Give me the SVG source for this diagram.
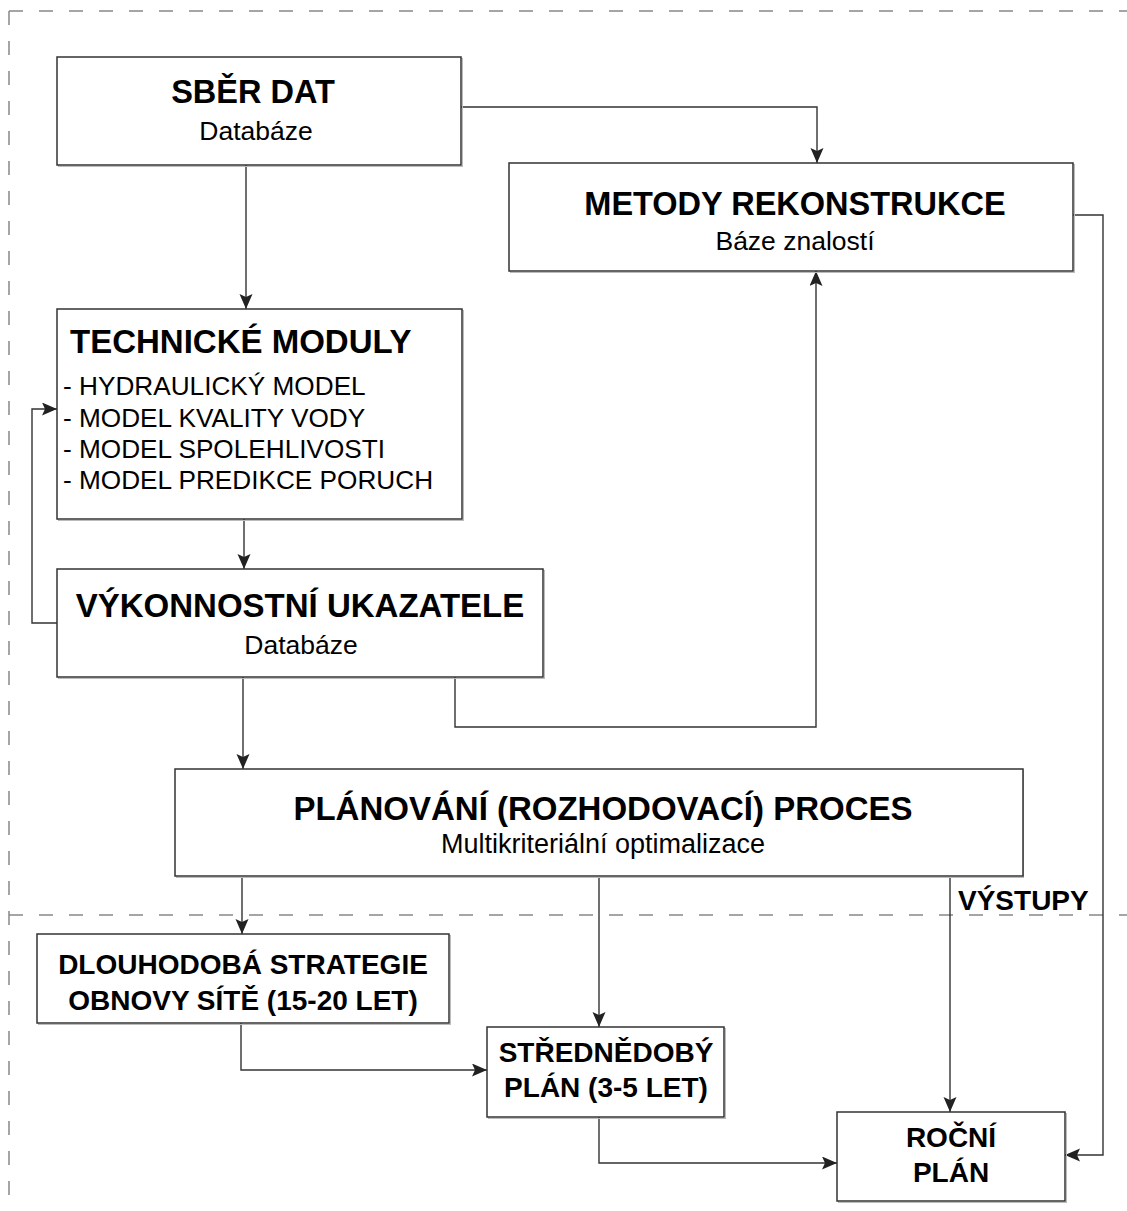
<svg xmlns="http://www.w3.org/2000/svg" width="1127" height="1211" viewBox="0 0 1127 1211">
<style>
.box{fill:#fff;stroke:#333;stroke-width:1.5}
.shadow{fill:none;stroke:#bbb;stroke-width:1}
.t{font-family:"Liberation Sans",Arial,sans-serif;fill:#000}
.b{font-weight:bold}
.c{text-anchor:middle}
.con{fill:none;stroke:#333;stroke-width:1.4}
.dash{fill:none;stroke:#888;stroke-width:1.5;stroke-dasharray:14 16}
</style>
<defs>
<marker id="arr" markerUnits="userSpaceOnUse" markerWidth="16" markerHeight="14" refX="15" refY="6.5" orient="auto">
<path d="M0,0 L15,6.5 L0,13 L3,6.5 z" fill="#222"/>
</marker>
</defs>
<rect width="1127" height="1211" fill="#fff"/>
<g id="frame">
<path class="dash" d="M9,11 H1127"/>
<path class="dash" d="M9,11 V1211"/>
<path class="dash" d="M9,915 H1127"/>
</g>
<g id="connectors">
<path class="con" d="M246,165 V309" marker-end="url(#arr)"/>
<path class="con" d="M461,107 H817 V163" marker-end="url(#arr)"/>
<path class="con" d="M1073,215 H1103 V1155 H1065" marker-end="url(#arr)"/>
<path class="con" d="M244,519 V569" marker-end="url(#arr)"/>
<path class="con" d="M57,623 H32 V409 H57" marker-end="url(#arr)"/>
<path class="con" d="M243,677 V769" marker-end="url(#arr)"/>
<path class="con" d="M455,677 V727 H816 V271" marker-end="url(#arr)"/>
<path class="con" d="M242,877 V934" marker-end="url(#arr)"/>
<path class="con" d="M599,877 V1027" marker-end="url(#arr)"/>
<path class="con" d="M950,877 V1112" marker-end="url(#arr)"/>
<path class="con" d="M241,1023 V1070 H487" marker-end="url(#arr)"/>
<path class="con" d="M599,1117 V1163 H837" marker-end="url(#arr)"/>
</g>
<g id="sber">
<rect class="shadow" x="58.5" y="58.5" width="404" height="108"/>
<rect class="box" x="57" y="57" width="404" height="108"/>
<text class="t b c" x="253" y="103" font-size="32.5">SBĚR DAT</text>
<text class="t c" x="256" y="140" font-size="26.5">Databáze</text>
</g>
<g id="metody">
<rect class="shadow" x="510.5" y="164.5" width="564" height="108"/>
<rect class="box" x="509" y="163" width="564" height="108"/>
<text class="t b c" x="795" y="215" font-size="32.5">METODY REKONSTRUKCE</text>
<text class="t c" x="795" y="250" font-size="26.5">Báze znalostí</text>
</g>
<g id="technicke">
<rect class="shadow" x="58.5" y="310.5" width="405" height="210"/>
<rect class="box" x="57" y="309" width="405" height="210"/>
<text class="t b" x="70" y="353" font-size="33">TECHNICKÉ MODULY</text>
<text class="t" x="63" y="395" font-size="26.2">- HYDRAULICKÝ MODEL</text>
<text class="t" x="63" y="427" font-size="26.2">- MODEL KVALITY VODY</text>
<text class="t" x="63" y="458" font-size="26.2">- MODEL SPOLEHLIVOSTI</text>
<text class="t" x="63" y="489" font-size="26.2">- MODEL PREDIKCE PORUCH</text>
</g>
<g id="vykonnostni">
<rect class="shadow" x="58.5" y="570.5" width="486" height="108"/>
<rect class="box" x="57" y="569" width="486" height="108"/>
<text class="t b c" x="300" y="617" font-size="33">VÝKONNOSTNÍ UKAZATELE</text>
<text class="t c" x="301" y="654" font-size="26.5">Databáze</text>
</g>
<g id="planovani">
<rect class="shadow" x="176.5" y="770.5" width="847" height="107"/>
<rect class="box" x="175" y="769" width="848" height="107"/>
<text class="t b c" x="603" y="820" font-size="33">PLÁNOVÁNÍ (ROZHODOVACÍ) PROCES</text>
<text class="t c" x="603" y="853" font-size="27">Multikriteriální optimalizace</text>
</g>
<g id="vystupy">
<text class="t b" x="958" y="910" font-size="28">VÝSTUPY</text>
</g>
<g id="dlouhodoba">
<rect class="shadow" x="38.5" y="935.5" width="412" height="89"/>
<rect class="box" x="37" y="934" width="412" height="89"/>
<text class="t b c" x="243" y="974" font-size="28">DLOUHODOBÁ STRATEGIE</text>
<text class="t b c" x="243" y="1010" font-size="28">OBNOVY SÍTĚ (15-20 LET)</text>
</g>
<g id="strednedoby">
<rect class="shadow" x="488.5" y="1028.5" width="237" height="90"/>
<rect class="box" x="487" y="1027" width="237" height="90"/>
<text class="t b c" x="606" y="1062" font-size="28">STŘEDNĚDOBÝ</text>
<text class="t b c" x="606" y="1097" font-size="28">PLÁN (3-5 LET)</text>
</g>
<g id="rocni">
<rect class="shadow" x="838.5" y="1113.5" width="228" height="89"/>
<rect class="box" x="837" y="1112" width="228" height="89"/>
<text class="t b c" x="951" y="1147" font-size="28">ROČNÍ</text>
<text class="t b c" x="951" y="1182" font-size="28">PLÁN</text>
</g>
</svg>
